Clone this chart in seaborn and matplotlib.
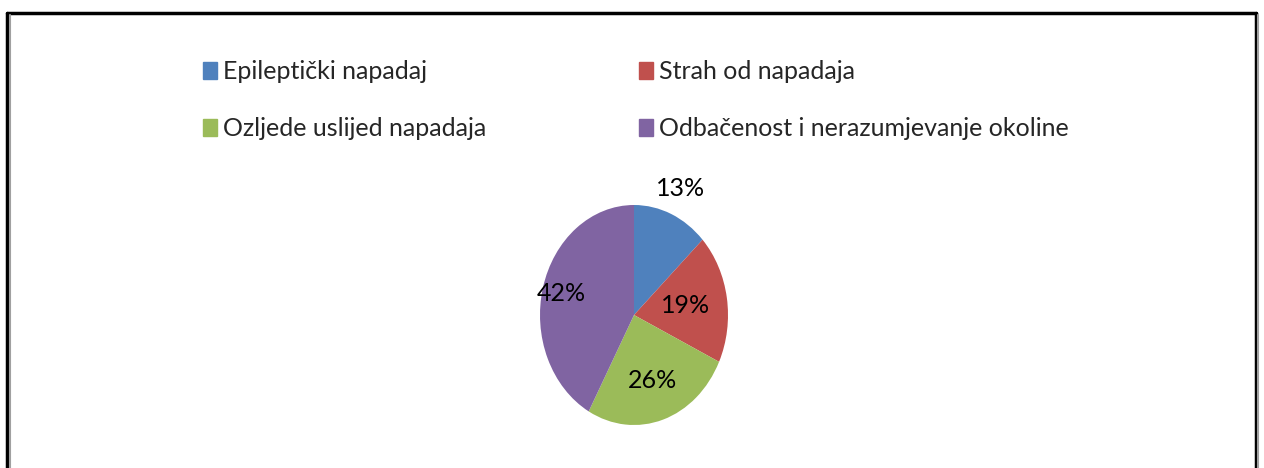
import matplotlib
matplotlib.use("Agg")
import matplotlib.pyplot as plt
import matplotlib.patches as mpatches
from matplotlib.lines import Line2D
import seaborn as sns
import numpy as np

# data
categories = ["Epileptički napadaj", "Strah od napadaja",
              "Ozljede uslijed napadaja", "Odbačenost i nerazumjevanje okoline"]
shares = [13, 19, 26, 42]
colors = ["#4F81BD", "#C0504D", "#9BBB59", "#8064A2"]

# label distance from centre for each slice (Excel "best fit" look)
label_dist = [1.25, 0.55, 0.63, 0.8]

sns.set_theme(style="white")
plt.rcParams["font.family"] = ["Lato", "DejaVu Sans"]

W, H = 1264, 468
fig = plt.figure(figsize=(W / 100, H / 100), dpi=100)
fig.patch.set_facecolor("white")

# pie is slightly taller than wide in the reference
ax = fig.add_axes([540 / W, (H - 425) / H, 188 / W, 220 / H])
wedges, _ = ax.pie(shares, colors=colors, startangle=90, counterclock=False,
                   wedgeprops=dict(linewidth=0))
ax.set_aspect("auto")
ax.set_xlim(-1, 1)
ax.set_ylim(-1, 1)
ax.axis("off")

# percentage labels at mid-angle of each wedge
for w, val, d in zip(wedges, shares, label_dist):
    ang = np.deg2rad((w.theta1 + w.theta2) / 2)
    ax.text(d * np.cos(ang), d * np.sin(ang), f"{val}%", ha="center",
            va="center", fontsize=18, color="black")

# legend: two columns, filled column-wise so rows read Epi/Strah, Ozljede/Odbačenost
order = [0, 2, 1, 3]
handles = [mpatches.Patch(color=colors[i], label=categories[i]) for i in order]
fig.legend(handles=handles, ncol=2, loc="upper left",
           bbox_to_anchor=(203 / W, 1 - 60 / H), frameon=False,
           borderpad=0, borderaxespad=0,
           fontsize=18, handlelength=0.56, handleheight=0.68,
           handletextpad=0.24, columnspacing=6.1, labelspacing=1.38)

# outer frame (bottom edge runs off the picture)
frame_kw = dict(transform=fig.transFigure, color="black", linewidth=2.5)
fig.add_artist(Line2D([7 / W, 1256 / W], [1 - 13 / H, 1 - 13 / H], **frame_kw))
fig.add_artist(Line2D([7 / W, 7 / W], [0, 1 - 13 / H], **frame_kw))
fig.add_artist(Line2D([1256 / W, 1256 / W], [0, 1 - 13 / H], **frame_kw))
shade_kw = dict(transform=fig.transFigure, color="#A0A0A0", linewidth=1.5)
fig.add_artist(Line2D([10 / W, 10 / W], [0, 1 - 15 / H], **shade_kw))
fig.add_artist(Line2D([1258 / W, 1258 / W], [0, 1 - 15 / H], **shade_kw))

fig.savefig("out.png", dpi=100, facecolor="white")
